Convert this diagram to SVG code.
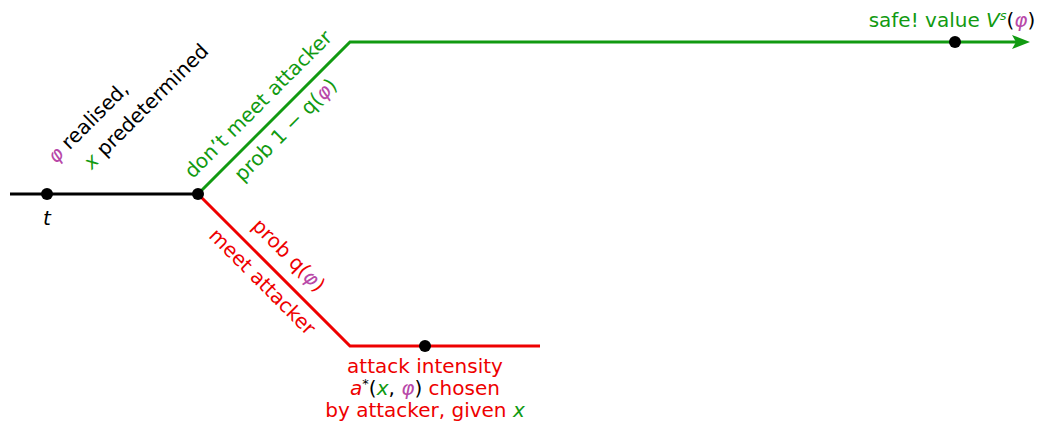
<svg xmlns="http://www.w3.org/2000/svg" width="1048" height="423" viewBox="0 0 1048 423">
  <style>
    text { font-family: "DejaVu Sans", "Liberation Sans", sans-serif; font-size: 20px; }
    .k { fill: #000; }
    .g { fill: #119a11; }
    .r { fill: #ee0000; }
    .m { fill: #b848a8; }
    .gg { fill: #119a11; }
    .i { font-style: italic; }
    .ln { fill: none; stroke-width: 3; stroke-linejoin: miter; }
    .dot { fill: #000; }
  </style>
  <defs>
    <marker id="arrowG" viewBox="0 0 18 14" refX="12" refY="7" markerWidth="18" markerHeight="14" markerUnits="userSpaceOnUse" orient="auto">
      <path d="M0,0 L18,7 L0,14 L4,7 Z" fill="#119a11"/>
    </marker>
  </defs>
  <rect width="1048" height="423" fill="#fff"/>

  <g id="connectors">
    <path class="ln" d="M10,194 H198" stroke="#000"/>
    <path class="ln" d="M198,194 L350,42 H1024" stroke="#119a11" marker-end="url(#arrowG)"/>
    <path class="ln" d="M198,194 L350,346 H540" stroke="#ee0000"/>
    <text class="g" text-anchor="middle" transform="translate(263,109) rotate(-45)">don’t meet attacker</text>
    <text class="g" text-anchor="middle" transform="translate(290.5,134.5) rotate(-45)">prob 1 − q(<tspan class="m i">φ</tspan>)</text>
    <text class="r" text-anchor="middle" transform="translate(284,260) rotate(45)">prob q(<tspan class="m i">φ</tspan>)</text>
    <text class="r" text-anchor="middle" transform="translate(257.5,286.5) rotate(45)">meet attacker</text>
  </g>

  <g id="node-t">
    <circle class="dot" cx="47" cy="194" r="6"/>
    <text class="k i" x="47" y="225" text-anchor="middle">t</text>
  </g>

  <g id="node-split">
    <circle class="dot" cx="198" cy="194" r="6"/>
    <text class="k" text-anchor="middle" transform="translate(92.75,127.25) rotate(-45)"><tspan class="m i">φ</tspan> realised,</text>
    <text class="k" text-anchor="middle" transform="translate(150.75,111.25) rotate(-45)"><tspan class="gg i">x</tspan> predetermined</text>
  </g>

  <g id="node-safe">
    <circle class="dot" cx="955" cy="42" r="6"/>
    <text class="g" x="952" y="27" text-anchor="middle">safe! value <tspan class="i">V</tspan><tspan class="i" font-size="13" baseline-shift="7">s</tspan><tspan fill="#000">(</tspan><tspan class="m i">φ</tspan><tspan fill="#000">)</tspan></text>
  </g>

  <g id="node-attack">
    <circle class="dot" cx="425" cy="346" r="6"/>
    <text class="r" x="425" y="373" text-anchor="middle">attack intensity</text>
    <text class="r" x="425" y="395" text-anchor="middle"><tspan class="i">a</tspan><tspan fill="#000" font-size="13" baseline-shift="7">*</tspan><tspan fill="#000">(</tspan><tspan class="gg i">x</tspan><tspan fill="#000">, </tspan><tspan class="m i">φ</tspan><tspan fill="#000">)</tspan> chosen</text>
    <text class="r" x="425" y="417" text-anchor="middle">by attacker, given <tspan class="gg i">x</tspan></text>
  </g>
</svg>
